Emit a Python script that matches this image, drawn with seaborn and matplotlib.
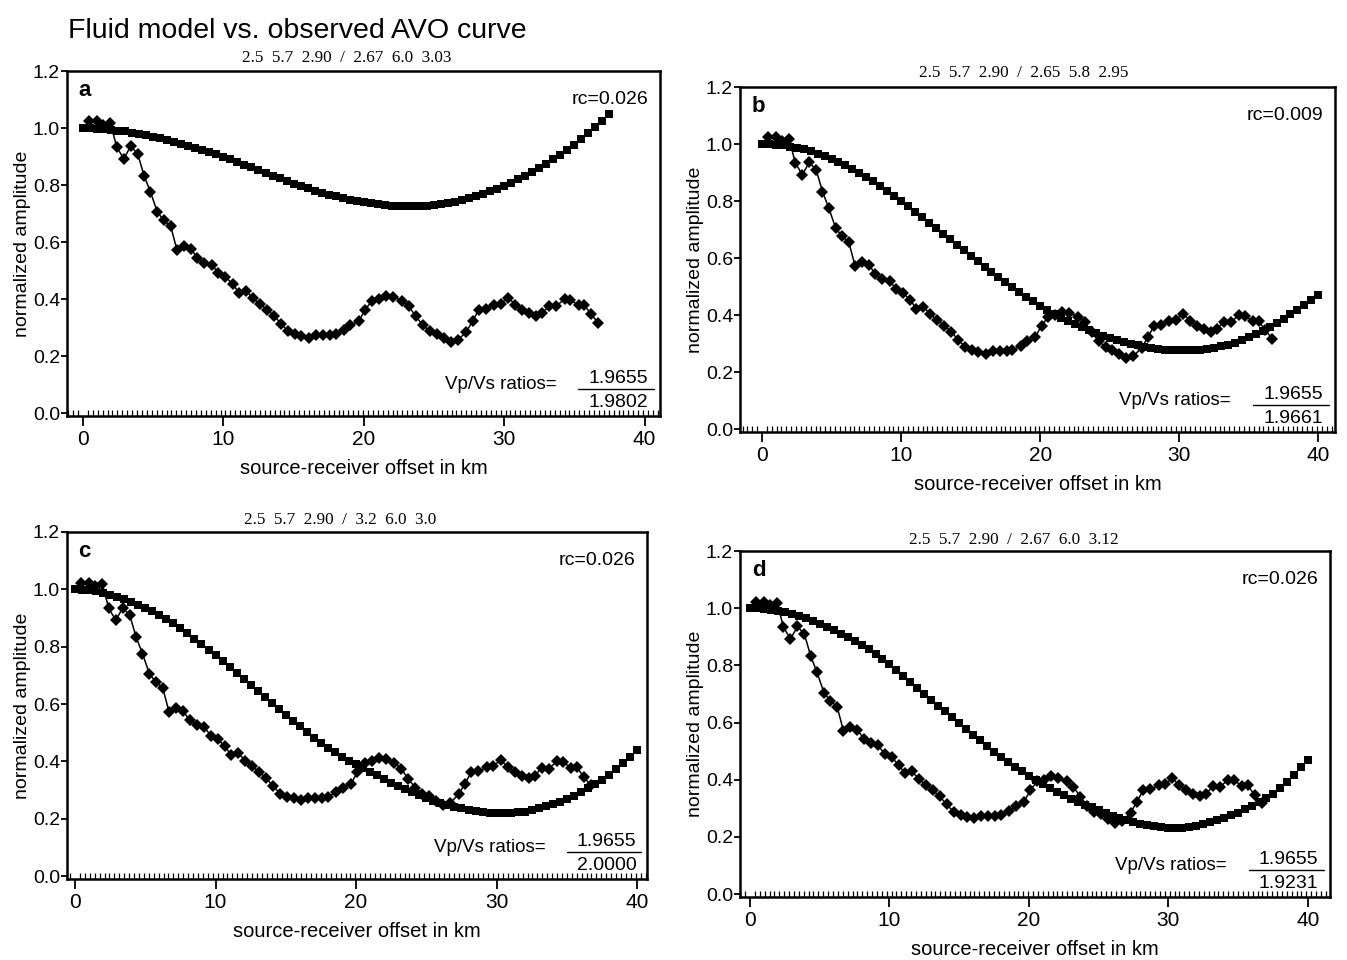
import numpy as np
import matplotlib
matplotlib.use("Agg")
import matplotlib.pyplot as plt
import seaborn as sns
from matplotlib.ticker import MultipleLocator

sns.set_style("ticks")
plt.rcParams['font.family'] = ['Liberation Sans', 'DejaVu Sans']
plt.rcParams['text.color'] = 'black'
plt.rcParams['axes.labelcolor'] = 'black'
plt.rcParams['xtick.color'] = 'black'
plt.rcParams['ytick.color'] = 'black'

# observed AVO amplitudes (same in all four panels)
obs_offset = [0.4, 1.0, 1.45, 1.95, 2.4, 2.9, 3.4, 3.9, 4.35, 4.8, 5.3, 5.75, 6.25, 6.7, 7.2,
              7.7, 8.15, 8.65, 9.2, 9.65, 10.15, 10.65, 11.1, 11.6, 12.1, 12.6, 13.1, 13.6,
              14.1, 14.6, 15.1, 15.55, 16.1, 16.6, 17.1, 17.6, 18.0, 18.6, 19.05, 19.65,
              20.1, 20.6, 21.1, 21.6, 22.1, 22.7, 23.2, 23.7, 24.2, 24.7, 25.2, 25.7, 26.2,
              26.7, 27.3, 27.75, 28.2, 28.7, 29.3, 29.75, 30.3, 30.8, 31.3, 31.8, 32.3, 32.7,
              33.2, 33.7, 34.3, 34.7, 35.3, 35.7, 36.2, 36.7]
obs_amp = [1.023, 1.023, 1.010, 1.017, 0.934, 0.892, 0.936, 0.909, 0.833, 0.776, 0.705, 0.677,
           0.655, 0.571, 0.586, 0.575, 0.544, 0.527, 0.520, 0.490, 0.478, 0.453, 0.423, 0.430,
           0.403, 0.383, 0.363, 0.342, 0.314, 0.288, 0.277, 0.271, 0.265, 0.273, 0.273, 0.273,
           0.277, 0.292, 0.309, 0.323, 0.363, 0.395, 0.400, 0.412, 0.407, 0.395, 0.375, 0.340,
           0.309, 0.288, 0.279, 0.262, 0.248, 0.256, 0.285, 0.323, 0.363, 0.366, 0.380, 0.384,
           0.405, 0.380, 0.363, 0.350, 0.342, 0.350, 0.377, 0.375, 0.400, 0.398, 0.378, 0.380,
           0.346, 0.317]

# model offsets (0.5 km spacing)
model_offset_a = [0.5 * i for i in range(76)]
model_offset = [0.5 * i for i in range(81)]

model_a = [1.000, 0.999, 0.998, 0.996, 0.994, 0.991, 0.988, 0.984, 0.980, 0.975, 0.970, 0.964,
           0.958, 0.952, 0.945, 0.938, 0.931, 0.924, 0.916, 0.908, 0.900, 0.891, 0.882, 0.872,
           0.863, 0.853, 0.843, 0.833, 0.824, 0.814, 0.805, 0.796, 0.788, 0.780, 0.773, 0.766,
           0.760, 0.754, 0.749, 0.744, 0.740, 0.736, 0.733, 0.730, 0.728, 0.726, 0.725, 0.725,
           0.726, 0.728, 0.730, 0.733, 0.737, 0.742, 0.748, 0.754, 0.761, 0.769, 0.778, 0.787,
           0.797, 0.808, 0.820, 0.832, 0.846, 0.860, 0.875, 0.891, 0.907, 0.924, 0.942, 0.961,
           0.981, 1.002, 1.025, 1.050]
model_b = [1.000, 0.999, 0.998, 0.995, 0.991, 0.987, 0.981, 0.974, 0.966, 0.957, 0.948, 0.937,
           0.925, 0.913, 0.899, 0.884, 0.869, 0.853, 0.836, 0.818, 0.800, 0.781, 0.762, 0.743,
           0.724, 0.705, 0.685, 0.666, 0.646, 0.627, 0.608, 0.589, 0.570, 0.552, 0.533, 0.515,
           0.498, 0.481, 0.464, 0.448, 0.432, 0.418, 0.404, 0.391, 0.379, 0.368, 0.357, 0.347,
           0.337, 0.328, 0.320, 0.313, 0.306, 0.300, 0.294, 0.289, 0.285, 0.281, 0.279, 0.277,
           0.276, 0.276, 0.277, 0.279, 0.282, 0.285, 0.290, 0.296, 0.303, 0.312, 0.322, 0.333,
           0.345, 0.358, 0.372, 0.388, 0.403, 0.419, 0.436, 0.453, 0.470]
model_c = [1.000, 0.999, 0.997, 0.994, 0.989, 0.982, 0.975, 0.966, 0.957, 0.946, 0.935, 0.923,
           0.910, 0.896, 0.881, 0.865, 0.847, 0.828, 0.809, 0.790, 0.770, 0.750, 0.730, 0.709,
           0.689, 0.668, 0.647, 0.625, 0.604, 0.583, 0.562, 0.542, 0.522, 0.502, 0.483, 0.465,
           0.448, 0.432, 0.417, 0.403, 0.390, 0.377, 0.364, 0.351, 0.338, 0.326, 0.314, 0.303,
           0.292, 0.282, 0.272, 0.263, 0.255, 0.248, 0.241, 0.236, 0.231, 0.227, 0.223, 0.221,
           0.219, 0.219, 0.220, 0.222, 0.225, 0.230, 0.236, 0.243, 0.251, 0.259, 0.268, 0.280,
           0.293, 0.306, 0.320, 0.335, 0.353, 0.373, 0.395, 0.417, 0.440]
model_d = [1.000, 0.999, 0.998, 0.995, 0.991, 0.986, 0.980, 0.973, 0.965, 0.956, 0.946, 0.935,
           0.923, 0.911, 0.899, 0.887, 0.872, 0.856, 0.840, 0.823, 0.806, 0.785, 0.764, 0.743,
           0.721, 0.700, 0.680, 0.659, 0.639, 0.618, 0.598, 0.578, 0.558, 0.538, 0.518, 0.498,
           0.480, 0.462, 0.445, 0.429, 0.413, 0.399, 0.385, 0.371, 0.358, 0.345, 0.334, 0.323,
           0.313, 0.303, 0.293, 0.284, 0.275, 0.267, 0.259, 0.252, 0.246, 0.241, 0.237, 0.234,
           0.232, 0.232, 0.233, 0.236, 0.240, 0.245, 0.252, 0.259, 0.267, 0.276, 0.285, 0.296,
           0.308, 0.321, 0.335, 0.350, 0.370, 0.392, 0.417, 0.443, 0.470]

panel_letters = ["a", "b", "c", "d"]
panel_params = ["2.5  5.7  2.90  /  2.67  6.0  3.03",
                "2.5  5.7  2.90  /  2.65  5.8  2.95",
                "2.5  5.7  2.90  /  3.2  6.0  3.0",
                "2.5  5.7  2.90  /  2.67  6.0  3.12"]
panel_rc = ["rc=0.026", "rc=0.009", "rc=0.026", "rc=0.026"]
vp_vs_num = ["1.9655", "1.9655", "1.9655", "1.9655"]
vp_vs_den = ["1.9802", "1.9661", "2.0000", "1.9231"]
y_ticks = [0.0, 0.2, 0.4, 0.6, 0.8, 1.0, 1.2]
x_ticks = [0, 10, 20, 30, 40]

W, H = 1347, 960
fig = plt.figure(figsize=(W / 100, H / 100), dpi=100)

# pixel boxes: left, right, top, bottom
boxes = [(67, 660, 71, 416), (740, 1335, 87, 432), (67, 647, 532, 879), (740, 1330, 551, 897)]
xlims = [(-1.14, 41.1), (-1.58, 41.2), (-0.57, 40.7), (-0.72, 41.6)]
subtitle_pos = [(347, 58), (1024, 73), (340, 520), (1014, 540)]
model_x = [model_offset_a, model_offset, model_offset, model_offset]
model_y = [model_a, model_b, model_c, model_d]
serif = ["Liberation Serif", "DejaVu Serif"]

for i in range(4):
    l, r, t, b = boxes[i]
    ax = fig.add_axes([l / W, 1 - b / H, (r - l) / W, (b - t) / H])
    sns.lineplot(x=model_x[i], y=model_y[i], ax=ax, color="black", linewidth=0,
                 marker="s", markersize=6.2, markeredgewidth=0, sort=False)
    sns.lineplot(x=obs_offset, y=obs_amp, ax=ax, color="black", linewidth=1.1,
                 marker="D", markersize=5.8, markeredgewidth=0, sort=False)
    ax.set_xlim(*xlims[i])
    ax.set_ylim(-0.01, 1.2)
    ax.set_xticks(x_ticks)
    ax.set_yticks(y_ticks)
    ax.set_yticklabels([f"{v:.1f}" for v in y_ticks])
    ax.xaxis.set_minor_locator(MultipleLocator(0.35))
    ax.tick_params(axis="x", which="major", direction="out", length=7, width=1.3,
                   labelsize=15, pad=3)
    ax.tick_params(axis="x", which="minor", direction="in", length=4.5, width=0.9)
    ax.tick_params(axis="y", which="major", direction="out", length=4, width=1.3,
                   labelsize=14, pad=1)
    for s in ax.spines.values():
        s.set_linewidth(1.8)
        s.set_color("black")
    ax.set_xlabel("source-receiver offset in km", fontsize=14.5, labelpad=7)
    ax.set_ylabel("normalized amplitude", fontsize=14, labelpad=1)
    ax.text(0.02, 0.975, panel_letters[i], transform=ax.transAxes, fontsize=16,
            fontweight="bold", va="top", ha="left")
    ax.text(0.98, 0.918, panel_rc[i], transform=ax.transAxes, fontsize=14,
            va="center", ha="right")
    ax.text(0.825, 0.09, "Vp/Vs ratios=", transform=ax.transAxes, fontsize=13.5,
            va="center", ha="right")
    ax.text(0.93, 0.108, vp_vs_num[i], transform=ax.transAxes, fontsize=14,
            va="center", ha="center")
    ax.text(0.93, 0.04, vp_vs_den[i], transform=ax.transAxes, fontsize=14,
            va="center", ha="center")
    ax.plot([0.862, 0.99], [0.079, 0.079], transform=ax.transAxes, color="black",
            linewidth=1.0, clip_on=False)
    sx, sy = subtitle_pos[i]
    fig.text(sx / W, 1 - sy / H, panel_params[i], fontsize=12.3, family=serif,
             ha="center", va="center")

fig.text(68 / W, 1 - 31 / H, "Fluid model vs. observed AVO curve", fontsize=20.5,
         va="center", ha="left")

fig.savefig("out.png", dpi=100, facecolor="white")
